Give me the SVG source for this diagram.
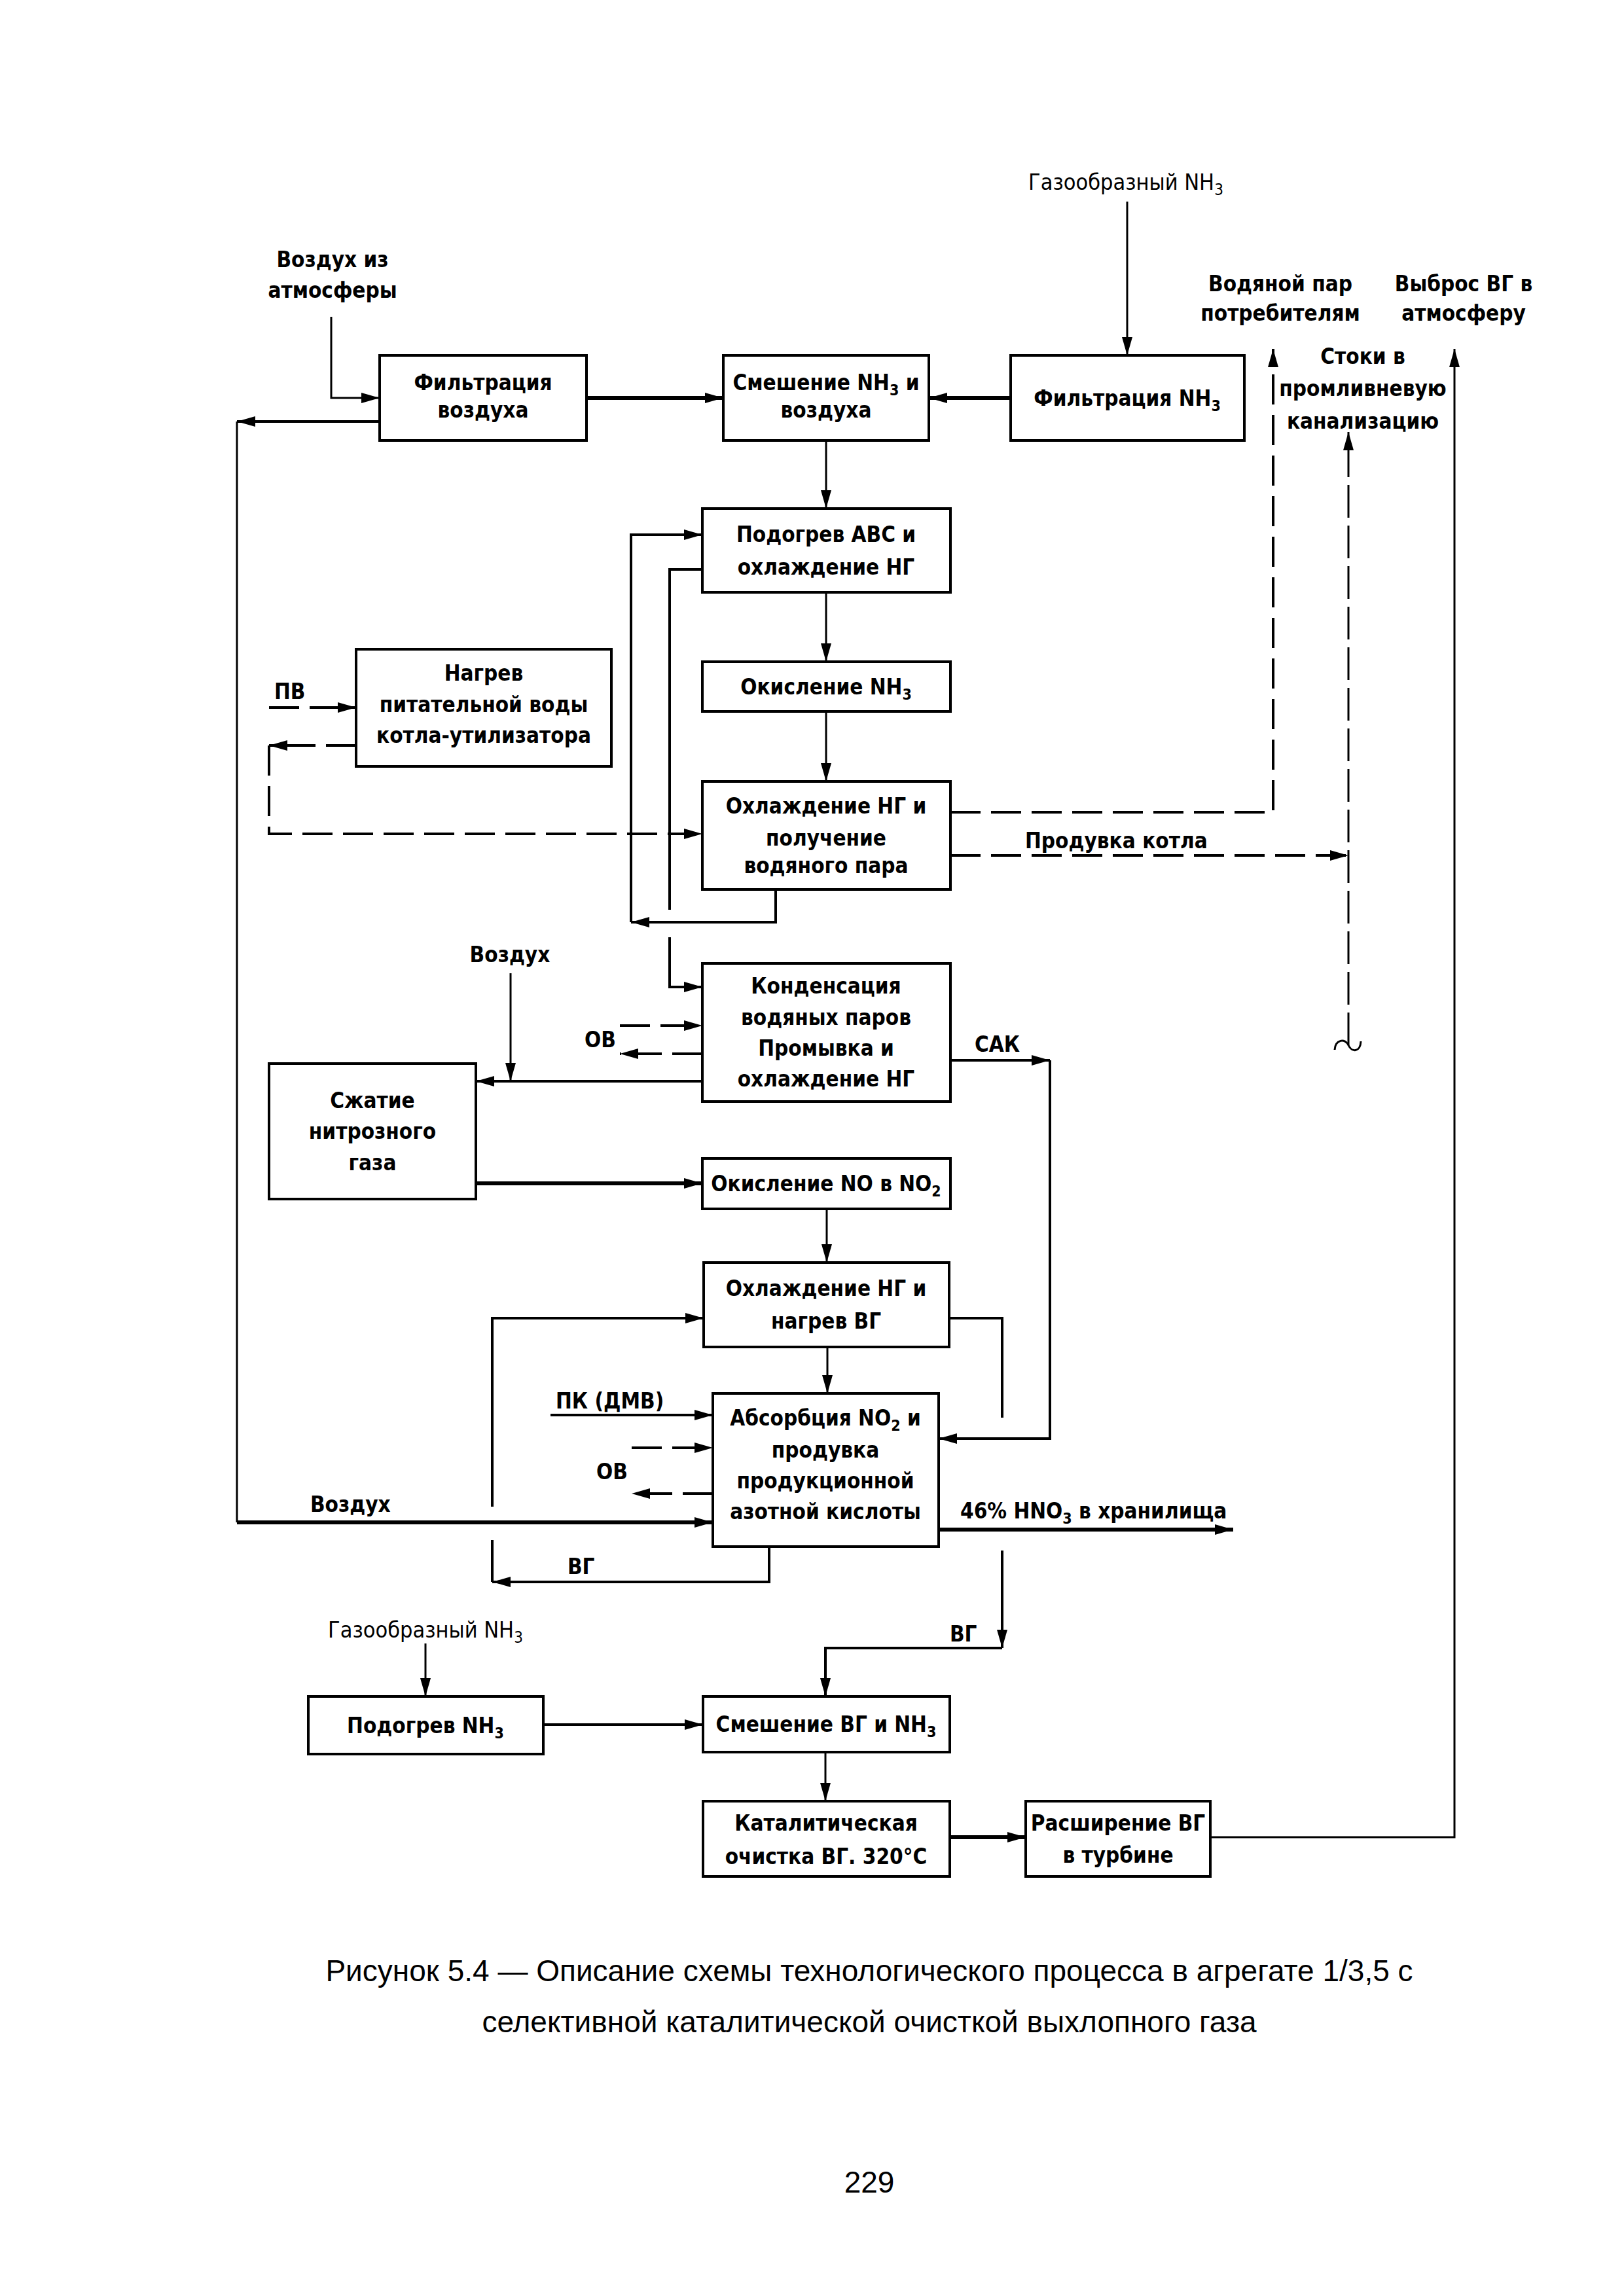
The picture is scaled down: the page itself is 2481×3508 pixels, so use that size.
<svg xmlns="http://www.w3.org/2000/svg" width="2481" height="3508" viewBox="0 0 2481 3508">
<style>
.bg{fill:#fff}
.box{fill:none;stroke:#000;stroke-width:4}
.ln{fill:none;stroke:#000;stroke-width:4}
.thin{stroke-width:3}
.thick{stroke-width:6}
.dash{stroke-dasharray:46 16}
.dd{stroke-dasharray:50 12}
.t{font-family:"DejaVu Sans Condensed","DejaVu Sans",sans-serif;font-size:33px;font-weight:bold;fill:#000}
.lt{font-weight:normal;font-size:34px}
.c{text-anchor:middle}
.cap{font-family:"Liberation Sans",Arial,sans-serif;font-size:46px;fill:#000;text-anchor:middle}
</style>
<defs>
<marker id="a" markerUnits="userSpaceOnUse" markerWidth="28" markerHeight="16" refX="28" refY="8" orient="auto" viewBox="0 0 28 16">
<path d="M0,0 L28,8 L0,16 Z" fill="#000"/>
</marker>
</defs>
<rect class="bg" x="0" y="0" width="2481" height="3508"/>

<g id="connectors">
<path class="ln thin" d="M506,484 V608 H580" marker-end="url(#a)"/>
<path class="ln thick" d="M896,608 H1105" marker-end="url(#a)"/>
<path class="ln thin" d="M1722,308 V543" marker-end="url(#a)"/>
<path class="ln thick" d="M1544,608 H1419" marker-end="url(#a)"/>
<path class="ln" d="M580,644 H362" marker-end="url(#a)"/>
<path class="ln thin" d="M362,644 V2326"/>
<path class="ln thick" d="M362,2326 H1089" marker-end="url(#a)"/>
<path class="ln thin" d="M1262,673 V777" marker-end="url(#a)"/>
<path class="ln thin" d="M1262,905 V1011" marker-end="url(#a)"/>
<path class="ln thin" d="M1262,1087 V1194" marker-end="url(#a)"/>
<path class="ln" d="M1185,1359 V1409 H964" marker-end="url(#a)"/>
<path class="ln" d="M964,1409 V817 H1073" marker-end="url(#a)"/>
<path class="ln" d="M1073,870 H1023 V1390"/>
<path class="ln" d="M1023,1432 V1508 H1073" marker-end="url(#a)"/>
<path class="ln dash" d="M411,1081 H544" marker-end="url(#a)"/>
<path class="ln dash" d="M544,1139 H411" marker-end="url(#a)"/>
<path class="ln dash" d="M411,1139 V1274 H1073" marker-end="url(#a)"/>
<path class="ln dash" d="M1452,1241 H1945 V533" marker-end="url(#a)"/>
<path class="ln dash" d="M1452,1307 H2060" marker-end="url(#a)"/>
<path class="ln thin dd" d="M2060,1597 V660" marker-end="url(#a)"/>
<path class="ln thin" d="M2039,1604 C2040,1588 2055,1586 2060,1597 C2065,1608 2078,1608 2079,1591"/>
<path class="ln" d="M1073,1652 H727" marker-end="url(#a)"/>
<path class="ln thin" d="M780,1487 V1652" marker-end="url(#a)"/>
<path class="ln dash" d="M947,1567 H1073" marker-end="url(#a)"/>
<path class="ln dash" d="M1073,1610 H947" marker-end="url(#a)"/>
<path class="ln" d="M1452,1620 H1604" marker-end="url(#a)"/>
<path class="ln" d="M1604,1620 V2198 H1434" marker-end="url(#a)"/>
<path class="ln thick" d="M727,1808 H1073" marker-end="url(#a)"/>
<path class="ln thin" d="M1263,1847 V1929" marker-end="url(#a)"/>
<path class="ln" d="M752,2302 V2014 H1075" marker-end="url(#a)"/>
<path class="ln" d="M1175,2363 V2417 H752" marker-end="url(#a)"/>
<path class="ln" d="M752,2353 V2417"/>
<path class="ln" d="M1450,2014 H1531 V2166"/>
<path class="ln" d="M1531,2369 V2518" marker-end="url(#a)"/>
<path class="ln" d="M1531,2518 H1261 V2592" marker-end="url(#a)"/>
<path class="ln thin" d="M1264,2058 V2129" marker-end="url(#a)"/>
<path class="ln" d="M841,2162 H1089" marker-end="url(#a)"/>
<path class="ln dash" d="M965,2212 H1089" marker-end="url(#a)"/>
<path class="ln dash" d="M1089,2282 H965" marker-end="url(#a)"/>
<path class="ln thick" d="M1434,2337 H1884" marker-end="url(#a)"/>
<path class="ln thin" d="M650,2511 V2592" marker-end="url(#a)"/>
<path class="ln" d="M830,2635 H1074" marker-end="url(#a)"/>
<path class="ln thin" d="M1261,2677 V2752" marker-end="url(#a)"/>
<path class="ln thick" d="M1451,2807 H1567" marker-end="url(#a)"/>
<path class="ln thin" d="M1849,2807 H2222 V533" marker-end="url(#a)"/>
</g>

<g id="labels">
<text class="t lt c" x="1720" y="290">Газообразный NH<tspan dy="8" font-size="24">3</tspan></text>
<text class="t c" x="508" y="408">Воздух из</text>
<text class="t c" x="508" y="455">атмосферы</text>
<text class="t c" x="1956" y="445">Водяной пар</text>
<text class="t c" x="1956" y="490">потребителям</text>
<text class="t c" x="2236" y="445">Выброс ВГ в</text>
<text class="t c" x="2236" y="490">атмосферу</text>
<text class="t c" x="2082" y="556">Стоки в</text>
<text class="t c" x="2082" y="605">промливневую</text>
<text class="t c" x="2082" y="655">канализацию</text>
<text class="t" x="419" y="1068">ПВ</text>
<text class="t" x="1566" y="1296">Продувка котла</text>
<text class="t c" x="779" y="1470">Воздух</text>
<text class="t" x="893" y="1600">ОВ</text>
<text class="t" x="1489" y="1607">САК</text>
<text class="t" x="849" y="2152">ПК (ДМВ)</text>
<text class="t" x="911" y="2260">ОВ</text>
<text class="t" x="474" y="2310">Воздух</text>
<text class="t" x="1467" y="2320">46% HNO<tspan dy="8" font-size="23">3</tspan><tspan dy="-8"> в хранилища</tspan></text>
<text class="t" x="867" y="2405">ВГ</text>
<text class="t" x="1451" y="2508">ВГ</text>
<text class="t lt c" x="650" y="2502">Газообразный NH<tspan dy="8" font-size="24">3</tspan></text>
</g>

<g id="n-filt-air">
<rect class="box" x="580" y="543" width="316" height="130"/>
<text class="t c" x="738" y="596">Фильтрация</text>
<text class="t c" x="738" y="638">воздуха</text>
</g>
<g id="n-mix">
<rect class="box" x="1105" y="543" width="314" height="130"/>
<text class="t c" x="1262" y="596">Смешение NH<tspan dy="8" font-size="23">3</tspan><tspan dy="-8"> и</tspan></text>
<text class="t c" x="1262" y="638">воздуха</text>
</g>
<g id="n-filt-nh3">
<rect class="box" x="1544" y="543" width="357" height="130"/>
<text class="t c" x="1722" y="620">Фильтрация NH<tspan dy="8" font-size="23">3</tspan></text>
</g>
<g id="n-heat">
<rect class="box" x="1073" y="777" width="379" height="128"/>
<text class="t c" x="1262" y="828">Подогрев АВС и</text>
<text class="t c" x="1262" y="878">охлаждение НГ</text>
</g>
<g id="n-ox">
<rect class="box" x="1073" y="1011" width="379" height="76"/>
<text class="t c" x="1262" y="1061">Окисление NH<tspan dy="8" font-size="23">3</tspan></text>
</g>
<g id="n-cool1">
<rect class="box" x="1073" y="1194" width="379" height="165"/>
<text class="t c" x="1262" y="1243">Охлаждение НГ и</text>
<text class="t c" x="1262" y="1292">получение</text>
<text class="t c" x="1262" y="1334">водяного пара</text>
</g>
<g id="n-feed">
<rect class="box" x="544" y="992" width="390" height="179"/>
<text class="t c" x="739" y="1040">Нагрев</text>
<text class="t c" x="739" y="1088">питательной воды</text>
<text class="t c" x="739" y="1135">котла-утилизатора</text>
</g>
<g id="n-cond">
<rect class="box" x="1073" y="1472" width="379" height="211"/>
<text class="t c" x="1262" y="1518">Конденсация</text>
<text class="t c" x="1262" y="1566">водяных паров</text>
<text class="t c" x="1262" y="1613">Промывка и</text>
<text class="t c" x="1262" y="1660">охлаждение НГ</text>
</g>
<g id="n-compr">
<rect class="box" x="411" y="1625" width="316" height="207"/>
<text class="t c" x="569" y="1693">Сжатие</text>
<text class="t c" x="569" y="1740">нитрозного</text>
<text class="t c" x="569" y="1788">газа</text>
</g>
<g id="n-oxno">
<rect class="box" x="1073" y="1770" width="379" height="77"/>
<text class="t c" x="1262" y="1820">Окисление NO в NO<tspan dy="8" font-size="23">2</tspan></text>
</g>
<g id="n-cool2">
<rect class="box" x="1075" y="1929" width="375" height="129"/>
<text class="t c" x="1262" y="1980">Охлаждение НГ и</text>
<text class="t c" x="1262" y="2030">нагрев ВГ</text>
</g>
<g id="n-abs">
<rect class="box" x="1089" y="2129" width="345" height="234"/>
<text class="t c" x="1261" y="2178">Абсорбция NO<tspan dy="8" font-size="23">2</tspan><tspan dy="-8"> и</tspan></text>
<text class="t c" x="1261" y="2227">продувка</text>
<text class="t c" x="1261" y="2274">продукционной</text>
<text class="t c" x="1261" y="2321">азотной кислоты</text>
</g>
<g id="n-heatnh3">
<rect class="box" x="471" y="2592" width="359" height="88"/>
<text class="t c" x="650" y="2648">Подогрев NH<tspan dy="8" font-size="23">3</tspan></text>
</g>
<g id="n-mix2">
<rect class="box" x="1074" y="2592" width="377" height="85"/>
<text class="t c" x="1262" y="2646">Смешение ВГ и NH<tspan dy="8" font-size="23">3</tspan></text>
</g>
<g id="n-cat">
<rect class="box" x="1074" y="2752" width="377" height="115"/>
<text class="t c" x="1262" y="2797">Каталитическая</text>
<text class="t c" x="1262" y="2848">очистка ВГ. 320°С</text>
</g>
<g id="n-exp">
<rect class="box" x="1567" y="2752" width="282" height="115"/>
<text class="t c" x="1708" y="2797">Расширение ВГ</text>
<text class="t c" x="1708" y="2846">в турбине</text>
</g>

<g id="caption">
<text class="cap" x="1328" y="3027">Рисунок 5.4 — Описание схемы технологического процесса в агрегате 1/3,5 с</text>
<text class="cap" x="1328" y="3105">селективной каталитической очисткой выхлопного газа</text>
<text class="cap" x="1328" y="3350">229</text>
</g>
</svg>
